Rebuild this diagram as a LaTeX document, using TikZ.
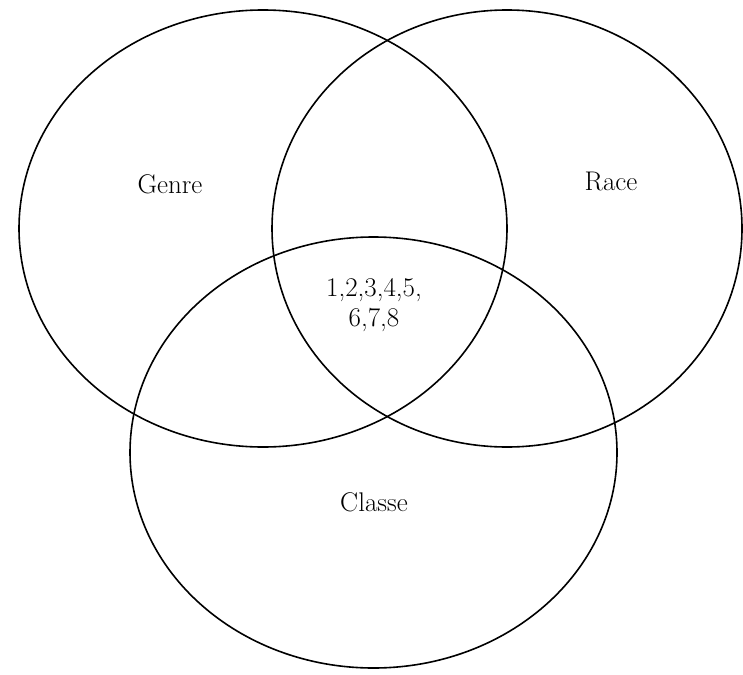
\documentclass[tikz,border=0pt]{standalone}
\usetikzlibrary{shapes.geometric,positioning}
\tikzset{
  vennset/.style={draw, ellipse, line width=1.6pt, inner sep=0pt},
  vennlabel/.style={font=\fontsize{27}{30}\selectfont, align=center},
}

\begin{document}
\begin{tikzpicture}[x=1pt, y=-1pt]
  \useasboundingbox (0,0) rectangle (743,674);
  % the three sets
  \node[vennset, minimum width=488, minimum height=437] (G) at (263,228.5) {};
  \node[vennset, minimum width=470, minimum height=437] (R) at (507,228.5) {};
  \node[vennset, minimum width=487, minimum height=431] (C) at (373.5,452.5) {};
  % labels
  \node[vennlabel] (Gl) at (170,184) {Genre};
  \node[vennlabel] (Rl) at (611,181) {Race};
  \node[vennlabel] (Cl) at (374,502) {Classe};
  \node[vennlabel] (I) at (374,305) {1,2,3,4,5,\\6,7,8};
\end{tikzpicture}
\end{document}
